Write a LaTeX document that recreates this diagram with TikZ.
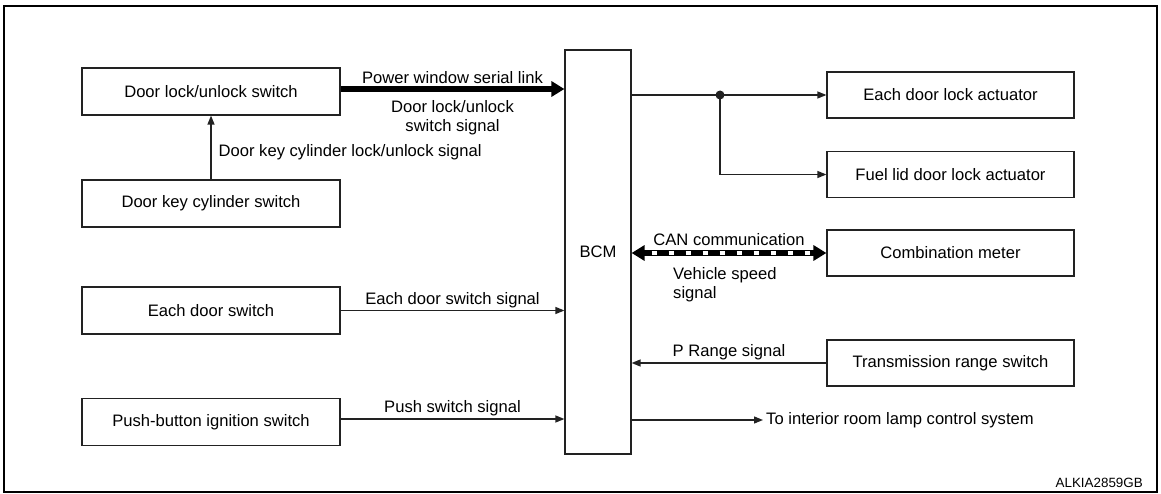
\documentclass[tikz,border=0pt]{standalone}
\usepackage{fontspec}
\setmainfont{Liberation Sans}
\usetikzlibrary{arrows.meta, positioning, calc}
\definecolor{ink}{HTML}{222222}

\begin{document}
\begin{tikzpicture}[x=1pt, y=-1pt,
  unit/.style={rectangle, draw=ink, line width=1.2pt, minimum width=258pt, minimum height=47pt,
    inner sep=0pt, font=\fontsize{16.6}{20}\selectfont},
  ecu/.style={rectangle, draw=ink, line width=1.2pt, minimum width=66pt, minimum height=404pt,
    inner sep=0pt, font=\fontsize{16.6}{20}\selectfont},
  sig/.style={-{Triangle[length=9pt, width=7pt]}, line width=1.3pt, color=ink},
  bus/.style={-{Triangle[length=13pt, width=15pt]}, line width=6.5pt},
  lbl/.style={font=\fontsize{16.6}{19.5}\selectfont, inner sep=2pt, text=black}]

  \useasboundingbox (0,0) rectangle (1161,494);
  \draw[line width=2.6pt] (4,6) rectangle (1157,492);

  % left column
  \node[unit] (doorsw) at (211,91.5) {Door lock/unlock switch};
  \node[unit] (keycyl) at (211,203.5) {Door key cylinder switch};
  \node[unit] (eachsw) at (211,310.5) {Each door switch};
  \node[unit] (pushsw) at (211,422) {Push-button ignition switch};

  % control unit
  \node[ecu] (bcm) at (598,252) {BCM};

  % right column
  \node[unit, minimum width=247pt, minimum height=46pt] (lockact) at (950.5,95) {Each door lock actuator};
  \node[unit, minimum width=247pt, minimum height=46pt] (fuelact) at (950.5,174.5) {Fuel lid door lock actuator};
  \node[unit, minimum width=247pt, minimum height=46pt] (meter) at (950.5,253) {Combination meter};
  \node[unit, minimum width=247pt, minimum height=46pt] (trsw) at (950.5,363) {Transmission range switch};

  \node[lbl, anchor=west, inner sep=3pt] (lamp) at (763,420) {To interior room lamp control system};
  \node[font=\fontsize{13.4}{16}\selectfont, anchor=east, inner sep=0pt] (code) at (1143,483) {ALKIA2859GB};

  % inputs
  \draw[bus] ([yshift=2.5pt]doorsw.east) -- ([yshift=2.5pt]doorsw.east -| bcm.west)
    node[lbl, above, midway]{Power window serial link}
    node[lbl, below, midway, align=center, yshift=-6pt]{Door lock/unlock\\switch signal};
  \draw[sig] (keycyl.north) -- (doorsw.south)
    node[lbl, right, midway, xshift=5pt, yshift=-5pt]{Door key cylinder lock/unlock signal};
  \draw[sig] (eachsw.east) -- (eachsw.east -| bcm.west)
    node[lbl, above, midway]{Each door switch signal};
  \draw[sig] ([yshift=3pt]pushsw.east) -- ([yshift=3pt]pushsw.east -| bcm.west)
    node[lbl, above, midway]{Push switch signal};
  \draw[sig] (trsw.west) -- (trsw.west -| bcm.east)
    node[lbl, above, midway]{P Range signal};

  % outputs
  \coordinate (junc) at (720,95);
  \draw[sig] (lockact.west -| bcm.east) -- (lockact.west);
  \fill[ink] (junc) circle (4.5pt);
  \draw[sig] (junc) |- (fuelact.west);
  \draw[sig] (lamp.west -| bcm.east) -- (lamp.west);

  % CAN line
  \draw[{Triangle[length=13pt, width=15pt]}-{Triangle[length=13pt, width=15pt]}, line width=6.5pt]
    (meter.west -| bcm.east) -- (meter.west)
    node[lbl, above, midway, yshift=2pt]{CAN communication};
  \draw[white, line width=3.6pt, dash pattern=on 5pt off 12pt, dash phase=-6pt]
    ($(meter.west -| bcm.east)+(14,0)$) -- ($(meter.west)+(-14,0)$);
  \node[lbl, align=left, anchor=north west] (vss) at (671,265) {Vehicle speed\\signal};
\end{tikzpicture}
\end{document}
